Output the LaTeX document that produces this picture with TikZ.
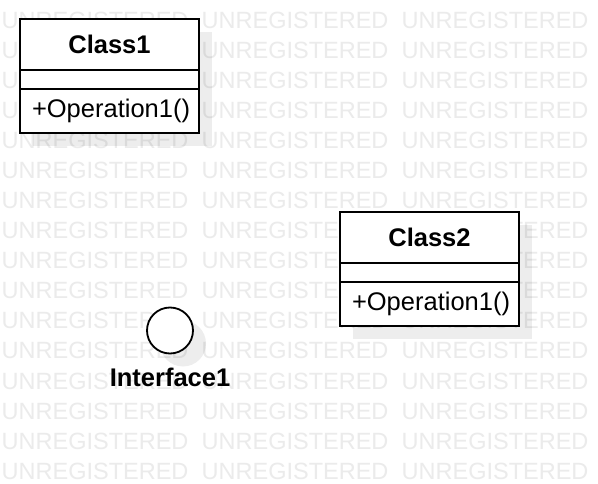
\documentclass[tikz,border=0pt]{standalone}
\usepackage{fontspec}
\setmainfont{Liberation Sans}
\usepackage{tikz}
\usetikzlibrary{positioning,shadows}

\begin{document}
\begin{tikzpicture}[x=1pt,y=-1pt,
  wmark/.style={anchor=base west,inner sep=0,text=black!8,font=\fontsize{23.5}{28}\selectfont},
  flatshadow/.style={general shadow={fill=black,opacity=.07,shadow xshift=13pt,shadow yshift=-13pt}},
  part/.style={draw,line width=1.8pt,fill=white,minimum width=179pt,inner sep=0,outer sep=0,flatshadow},
  headpart/.style={part,minimum height=51pt,font=\bfseries\fontsize{25.5}{30}\selectfont},
  attrpart/.style={part,minimum height=19pt},
  oppart/.style={part,minimum height=44pt,text width=155pt,inner xsep=12pt,align=left,font=\fontsize{25.5}{30}\selectfont},
  iface/.style={circle,draw,line width=1.8pt,fill=white,minimum size=46pt,inner sep=0,outer sep=0,flatshadow},
  ifacename/.style={inner sep=0,outer sep=0,font=\bfseries\fontsize{25.5}{30}\selectfont}]
  \useasboundingbox (0,0) rectangle (598,484);
  \fill[white] (0,0) rectangle (598,484);
  \foreach \row in {0,...,15}
    \foreach \col in {0,1,2}
      \node[wmark] (wm-\row-\col) at (1.5+200*\col,29+30*\row) {UNREGISTERED};
  \node[headpart] (class1) at (109.5,44.5) {Class1};
  \node[attrpart,below=0pt of class1] (class1attr) {};
  \node[oppart,below=0pt of class1attr] (class1op) {+Operation1()};
  \node[headpart] (class2) at (429.5,237.5) {Class2};
  \node[attrpart,below=0pt of class2] (class2attr) {};
  \node[oppart,below=0pt of class2attr] (class2op) {+Operation1()};
  \node[iface] (interface1) at (170,330.5) {};
  \node[ifacename,below=14.9pt of interface1] (interface1name) {Interface1};
\end{tikzpicture}
\end{document}
